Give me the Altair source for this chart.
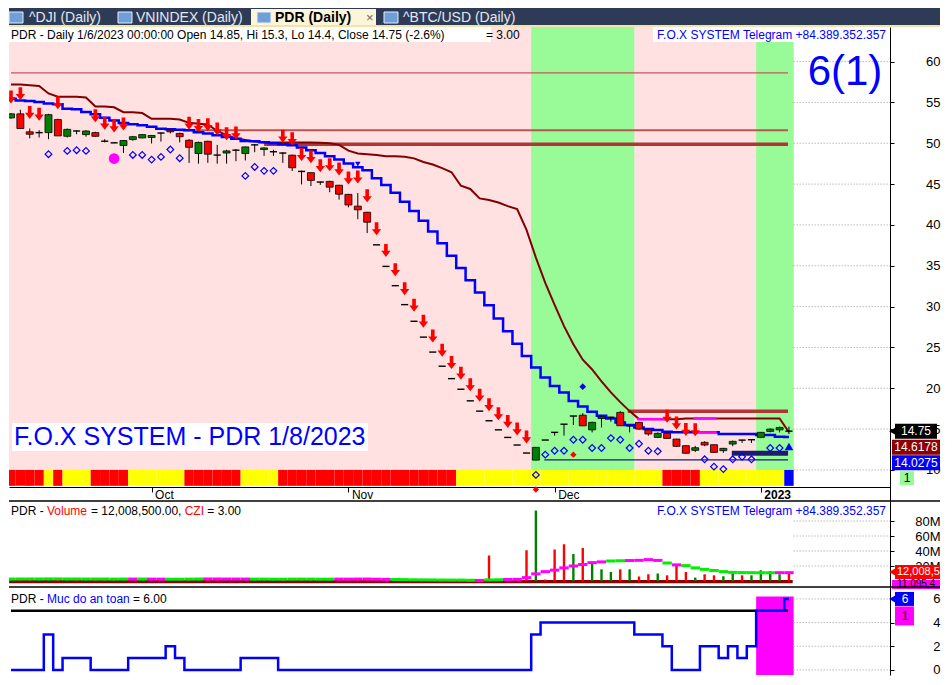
import altair as alt
import pandas as pd

# ------------------------------------------------------------------ values
tabs = ["^DJI (Daily)", "VNINDEX (Daily)", "PDR (Daily)", "^BTC/USD (Daily)"]
month_tick_idx = [15, 36, 58, 80]
month_tick_lbl = ["Oct", "Nov", "Dec", "2023"]
price_ticks = [10, 15, 20, 25, 30, 35, 40, 45, 50, 55, 60]
volume_ticks = [20, 40, 60, 80]
safety_ticks = [0, 2, 4, 6]

opens = [53.1, 53.6, 51.4, 51.25, 51.3, 52.9, 50.85, 51.5, 51.06, 51.3,
         50.3, 50.1, 49.72, 50.45, 50.65, 50.7, 51.2, 51.6, 51.2, 50.37,
         48.74, 50.24, 48.6, 48.8, 49.1, 48.74, 49.75, 49.23, 48.94, 48.85,
         48.54, 46.6, 46.4, 45.3, 45.33, 44.86, 43.74, 42.3, 41.55, 37.56,
         34.92, 32.56, 30.24, 28.2, 26.26, 24.43, 22.7, 21.18, 19.88, 18.46,
         17.2, 16.02, 14.91, 13.98, 13.05, 12.07, 11.2, 13.66, 14.55, 15.6,
         16.6, 16.7, 14.91, 16.3, 16.35, 17.04, 15.4, 15.82, 14.9, 13.98,
         14.48, 13.78, 12.97, 12.4, 13.38, 13.09, 12.36, 13.17, 13.6, 13.65,
         13.98, 14.72, 14.91, 14.85]
highs = [53.7, 54.1, 51.8, 51.6, 53.6, 53.0, 51.8, 51.6, 51.6, 51.4,
         50.5, 50.15, 50.4, 50.9, 51.1, 51.0, 51.3, 51.7, 51.3, 50.5,
         50.2, 50.3, 49.8, 49.2, 49.3, 49.6, 49.9, 49.5, 49.2, 48.9,
         48.6, 46.65, 46.4, 45.3, 45.4, 44.9, 43.8, 43.9, 41.6, 37.56,
         34.92, 32.56, 30.24, 28.2, 26.26, 24.43, 22.7, 21.18, 19.88, 18.46,
         17.2, 16.02, 14.91, 13.98, 13.05, 12.07, 12.8, 13.66, 14.6, 15.6,
         16.6, 16.95, 15.9, 16.7, 16.5, 17.2, 15.4, 15.9, 15.0, 14.6,
         14.6, 13.8, 13.0, 12.95, 13.5, 13.1, 12.7, 13.6, 13.7, 13.75,
         14.65, 15.1, 15.3, 15.3]
lows = [53.0, 51.8, 50.6, 50.7, 50.5, 50.9, 50.7, 51.1, 50.8, 50.8,
        50.1, 50.0, 48.8, 50.3, 50.6, 49.97, 50.2, 51.2, 50.1, 47.6,
        47.5, 47.6, 47.5, 47.5, 47.8, 47.9, 48.9, 48.45, 48.45, 47.6,
        46.6, 44.96, 44.76, 44.9, 44.0, 43.1, 42.16, 40.7, 39.0, 37.56,
        34.92, 32.56, 30.24, 28.2, 26.26, 24.43, 22.7, 21.18, 19.88, 18.46,
        17.2, 16.02, 14.91, 13.98, 13.05, 12.07, 11.2, 13.66, 14.2, 14.2,
        15.5, 15.4, 14.6, 15.2, 15.9, 15.4, 14.6, 14.9, 14.2, 13.9,
        13.8, 12.8, 12.0, 12.2, 12.9, 12.1, 12.1, 12.9, 13.3, 13.3,
        13.9, 14.6, 14.6, 14.4]
closes = [53.6, 51.8, 51.1, 51.3, 53.5, 50.9, 51.7, 51.5, 51.5, 50.85,
          50.25, 50.05, 50.33, 50.8, 51.06, 50.95, 51.25, 51.4, 50.8, 49.5,
          50.1, 48.66, 48.55, 49.06, 49.15, 49.55, 49.8, 49.43, 48.96, 48.8,
          47.0, 46.55, 45.45, 45.25, 44.62, 43.76, 42.44, 41.85, 40.33, 37.56,
          34.92, 32.56, 30.24, 28.2, 26.26, 24.43, 22.7, 21.18, 19.88, 18.46,
          17.2, 16.02, 14.91, 13.98, 13.05, 12.07, 12.76, 13.66, 14.6, 15.6,
          16.6, 15.4, 15.82, 16.5, 16.45, 15.41, 15.4, 15.0, 14.4, 14.48,
          13.86, 12.89, 12.04, 12.72, 13.05, 12.15, 12.64, 13.5, 13.65, 13.7,
          14.6, 15.0, 15.2, 14.75]
trail_stop = [57.2, 57.2, 57.1, 57.0, 56.1, 55.7, 55.7, 55.7, 55.6, 54.5,
              54.5, 54.4, 53.8, 53.8, 53.7, 53.0, 53.0, 53.0, 52.9, 52.5,
              52.4, 52.3, 51.5, 51.0, 50.6, 50.4, 50.2, 50.1, 50.1, 50.1,
              50.1, 50.1, 50.1, 50.05, 50.0, 49.8, 49.1, 48.75, 48.65, 48.55,
              48.4, 48.4, 48.35, 48.15, 47.7, 47.4, 46.95, 46.45, 44.8, 44.4,
              43.25, 43.05, 42.75, 42.3, 41.95, 39.4, 36.0, 32.9, 30.2, 27.6,
              25.4, 23.5, 22.3, 20.85, 19.5, 18.3, 17.2, 16.22, 16.22, 16.22,
              16.22, 16.22, 16.3, 16.3, 16.3, 16.3, 16.3, 16.3, 16.3, 16.3,
              16.3, 16.3, 16.3, 14.6178]
blue_stop = [55.45, 55.24, 55.18, 55.04, 54.88, 54.76, 54.23, 54.15, 53.82, 53.54,
             53.13, 52.8, 52.48, 52.32, 52.2, 52.01, 51.79, 51.7, 51.65, 51.59,
             51.34, 51.18, 50.98, 50.77, 50.55, 50.28, 50.24, 50.12, 50.0, 49.88,
             49.76, 49.48, 49.15, 48.82, 48.41, 48.01, 47.52, 47.07, 46.7, 45.7,
             44.88, 43.94, 42.84, 41.71, 40.52, 39.18, 37.77, 36.22, 34.72, 33.21,
             31.74, 30.16, 28.54, 26.99, 25.45, 23.96, 22.54, 21.32, 20.28, 19.48,
             18.45, 17.77, 17.11, 16.62, 16.3, 15.82, 15.49, 15.21, 15.0, 14.88,
             14.67, 14.6, 14.6, 14.6, 14.6, 14.6, 14.39, 14.39, 14.39, 14.39,
             14.27, 14.27, 14.07, 14.0275]
volume_m = [2.8, 3.5, 2.6, 2.2, 3.9, 3.1, 2.4, 1.9, 2.1, 2.6,
            2.3, 1.8, 3.2, 2.5, 2.0, 2.4, 1.7, 1.9, 2.3, 3.6,
            3.4, 3.1, 2.7, 2.2, 2.0, 2.4, 2.1, 1.8, 1.9, 2.2,
            3.0, 2.8, 2.5, 2.0, 2.3, 2.9, 3.1, 3.8, 3.3, 0.6,
            0.4, 0.5, 0.3, 0.4, 0.3, 0.5, 0.4, 0.6, 0.5, 0.7,
            0.9, 34.0, 1.2, 1.5, 3.0, 41.0, 94.0, 2.0, 42.0, 49.0,
            36.0, 44.0, 25.0, 15.6, 12.0, 15.6, 15.6, 6.0, 9.0, 10.0,
            7.6, 20.0, 12.0, 4.5, 9.0, 7.6, 6.3, 13.0, 7.6, 7.6,
            14.3, 13.3, 9.0, 12.0085]
volume_dir = list("grrggrgrgr" "rrgggggrrr" "grrggggggr" "rrrrrrrrr"
                  "rrrrrrrrrrrr"
                  "rrrrrgrrrg" "rgggrgrrgr" "rrgrrggrgg" "ggr")
volume_ma_m = [2.6, 2.7, 2.7, 2.7, 2.8, 2.8, 2.7, 2.7, 2.6, 2.6,
               2.6, 2.5, 2.6, 2.6, 2.6, 2.5, 2.5, 2.4, 2.4, 2.5,
               2.6, 2.7, 2.7, 2.6, 2.6, 2.6, 2.5, 2.5, 2.4, 2.4,
               2.5, 2.5, 2.5, 2.4, 2.4, 2.5, 2.5, 2.6, 2.6, 2.4,
               2.2, 2.0, 1.8, 1.6, 1.5, 1.4, 1.3, 1.2, 1.2, 1.0,
               0.8, 1.5, 1.6, 2.0, 2.2, 4.5, 9.5, 12.5, 14.5, 17.5,
               20.0, 22.0, 24.5, 25.5, 26.7, 27.0, 27.3, 27.6, 28.5, 27.5,
               24.0, 21.5, 20.5, 17.5, 15.5, 14.0, 12.5, 11.5, 11.2, 11.1,
               11.0, 11.0, 11.1, 11.0954]
volume_ma_col = list("ggggggggggggg" "m" "g" "mm" "gggg" "mmmmm" "ggggggggg" "mmmmmm"
                     "ggggggggg" "m" "gg" "mmmmmmmmmmm" "gg" "mmmm" "g" "m"
                     "gggggggggg" "mm")
safety = [0, 0, 0, 0, 3, 0, 1, 1, 1, 0,
          0, 0, 0, 1, 1, 1, 1, 2, 1, 0,
          0, 0, 0, 0, 0, 1, 1, 1, 1, 0,
          0, 0, 0, 0, 0, 0, 0, 0, 0, 0,
          0, 0, 0, 0, 0, 0, 0, 0, 0, 0,
          0, 0, 0, 0, 0, 0, 3, 4, 4, 4,
          4, 4, 4, 4, 4, 4, 4, 3, 3, 3,
          2, 0, 0, 0, 2, 2, 1, 2, 1, 2,
          5, 5, 5, 6]
safety_level = 5
strip_col = list("RRRRYRYYYRRRRYYYYYYRRRRRRYYYYRRRRRRRRRRRRRRRRRRRYYYYYYYYYYYYYYYYYYYYYYRRRRYYYYYYYYYB")
sell_arrow_idx = [0, 1, 2, 3, 5, 9, 10, 11, 12, 19, 20, 21, 22, 23, 24, 29, 30, 31, 32, 33,
                  34, 35, 36, 37, 38, 39, 40, 41, 42, 43, 44, 45, 46, 47, 48, 49, 50, 51, 52, 53,
                  54, 55, 70, 71, 72, 73]
hollow_idx = [4, 6, 7, 8, 13, 14, 15, 16, 17, 18, 25, 26, 27, 28, 56, 57, 58, 59, 60, 61,
              62, 63, 64, 65, 66, 67, 68, 69, 74, 75, 76, 77, 78, 79, 81, 82]
hollow_val = [48.66, 49.06, 49.15, 49.06, 48.57, 48.57, 48.0, 48.33, 49.23, 48.17,
              46.0, 47.1, 46.62, 46.62, 9.39, 11.87, 12.35, 12.35, 13.7, 13.7,
              12.68, 12.68, 13.9, 13.7, 12.68, 13.2, 12.35, 12.28, 11.3, 10.4,
              10.1, 11.3, 11.62, 11.3, 12.68, 12.68]
green_from = [55.5, 79.5]
green_to = [66.5, 83.5]
level_from = [0.0, 18.0, 27.0, 65.8, 76.9, 56.9]
level_to = [82.9, 82.9, 82.9, 82.9, 82.9, 82.9]
level_val = [58.62, 51.59, 49.88, 17.2, 12.04, 11.22]
level_kind = ["thin", "mid", "thick", "thick", "navy", "navythin"]
magenta_from = [66.8, 72.8, 72.8]
magenta_to = [69.8, 75.3, 75.3]
magenta_val = [16.22, 16.3, 14.6]

# ------------------------------------------------------------------ layout / style
FONT = "Liberation Sans"
W = 881
TH, PH, VH, IH = 19, 474, 86, 88
XD = [-0.213, 93.78]
PYD = [6.196, 64.233]
VYD = [-8.0, 106.7]
IYD = [-0.43, 7.01]
RIGHT = 931
BLUE = "#0000ff"
ARROW = "M-0.28,-1L0.28,-1L0.28,0.05L0.72,0.05L0,1L-0.72,0.05L-0.28,0.05Z"
LEVEL_STYLE = {"thin": ("#c25b5b", 1.2), "mid": ("#b85450", 2.2), "thick": ("#b03535", 3.5),
               "navy": ("#1c1c6e", 5.0), "navythin": ("#1c1c6e", 1.2)}

n = len(closes)
idx = list(range(n))
one = pd.DataFrame({"a": [0]})


def y_axis(vals, expr=None):
    kw = dict(orient="right", values=vals, grid=False, domainColor="black", domainWidth=1,
              tickColor="black", tickSize=4, labelAlign="right", labelBaseline="middle",
              labelPadding=46, labelFont=FONT, labelFontSize=13, labelColor="black",
              title=None, labelFlush=False, labelOverlap=False)
    if expr:
        kw["labelExpr"] = expr
    return alt.Axis(**kw)


lbl_expr = "".join(f"datum.value == {v} ? '{t}' : " for v, t in zip(month_tick_idx, month_tick_lbl)) + "''"
X_AXIS = alt.Axis(orient="bottom", values=month_tick_idx, labelExpr=lbl_expr, offset=-14,
                  domainColor="black", domainWidth=1, tickColor="black", tickSize=5,
                  labelAlign="left", labelBaseline="top", labelPadding=-3, labelOffset=3,
                  labelFont=FONT, labelFontSize=12, labelColor="black",
                  labelFontWeight={"condition": {"test": f"datum.value == {month_tick_idx[-1]}",
                                                 "value": "bold"}, "value": "normal"},
                  grid=False, labelFlush=False, labelOverlap=False, title=None)
PY_AXIS = y_axis(price_ticks)
VY_AXIS = y_axis(volume_ticks, "datum.value + 'M'")
IY_AXIS = y_axis(safety_ticks)


def mk_x(axis):
    def _x(f):
        return alt.X(f, type="quantitative",
                     scale=alt.Scale(domain=XD, nice=False, zero=False, padding=0), axis=axis)
    return _x


def mk_y(dom, axis):
    def _y(f):
        return alt.Y(f, type="quantitative",
                     scale=alt.Scale(domain=dom, nice=False, zero=False, padding=0), axis=axis)
    return _y


Xp = mk_x(X_AXIS)
Xn = mk_x(None)
Yp = mk_y(PYD, PY_AXIS)
Yv = mk_y(VYD, VY_AXIS)
Yi = mk_y(IYD, IY_AXIS)


def vrect(x1, x2, y1, y2, fill, **kw):
    return alt.Chart(one).mark_rect(fill=fill, **kw).encode(
        x=alt.value(x1), x2=alt.value(x2), y=alt.value(y1), y2=alt.value(y2))


def vtext(txt, x, y, color="black", size=12, align="left", weight="normal"):
    return alt.Chart(pd.DataFrame({"t": [txt]})).mark_text(
        align=align, baseline="middle", font=FONT, fontSize=size, color=color, fontWeight=weight
    ).encode(x=alt.value(x), y=alt.value(y), text="t:N")


def value_box(df, vfield, yfn, x1, x2, dy, h, fill, tfield, tx, tcolor="white", size=12, align="center"):
    r = alt.Chart(df).mark_rect(fill=fill, yOffset=dy - h / 2, y2Offset=dy + h / 2).encode(
        x=alt.value(x1), x2=alt.value(x2), y=yfn(vfield), y2=alt.Y2(vfield))
    t = alt.Chart(df).mark_text(align=align, baseline="middle", dy=dy, font=FONT, fontSize=size,
                                color=tcolor).encode(x=alt.value(tx), y=yfn(vfield), text=alt.Text(tfield + ":N"))
    return [r, t]


def right_grid(vals, xfn, yfn):
    return alt.Chart(pd.DataFrame({"v": vals, "a": 83.5, "b": XD[1]})).mark_rule(
        color="#9a9a9a", strokeDash=[1, 2], strokeWidth=1).encode(x=xfn("a"), x2="b", y=yfn("v"))


# ------------------------------------------------------------------ tab bar
tab_layers = [
    vrect(0, RIGHT, 0, TH, "#2d3b57"),
    vrect(242, 367, 1, TH, "#fdf5d9"),
    vrect(0, RIGHT, TH - 2, TH, "#f4e3a6"),
]
for xi in [0, 109, 248, 375]:
    tab_layers.append(vrect(xi, xi + 14, 4, 15, "#6f9fd8", stroke="#e8eef8", strokeWidth=1))
tab_layers += [
    vtext(tabs[0], 20, 10, "#e3e8f0", 14),
    vtext(tabs[1], 127, 10, "#e3e8f0", 14),
    vtext(tabs[2], 266, 10, "black", 14, weight="bold"),
    vtext("×", 357, 10, "#666666", 13),
    vtext(tabs[3], 394, 10, "#e3e8f0", 14),
]
tab_bar = alt.layer(*tab_layers).properties(width=W, height=TH)

# ------------------------------------------------------------------ price panel
cd = pd.DataFrame({"i": idx, "o": opens, "h": highs, "l": lows, "c": closes,
                   "trail": trail_stop, "blue": blue_stop})
diff = cd["c"] - cd["o"]
cd["fill"] = ["#008000" if d > 0 else "#ff0000" for d in diff]
cd["doji"] = diff.abs() < 0.11
cd["xl"] = cd["i"] - 0.38
cd["xr"] = cd["i"] + 0.38
cd["s0"] = cd["i"] - 0.5
cd["s1"] = cd["i"] + 0.5
cd["strip"] = [{"R": "#ff0000", "Y": "#ffff00", "B": "#0000ff"}[k] for k in strip_col]
cd["ylo"] = 8.05
cd["yhi"] = 10.0

lv = pd.DataFrame({"a": level_from, "b": level_to, "v": level_val,
                   "col": [LEVEL_STYLE[k][0] for k in level_kind],
                   "w": [LEVEL_STYLE[k][1] for k in level_kind]})
mg = pd.DataFrame({"a": magenta_from, "b": magenta_to, "v": magenta_val})
hol = pd.DataFrame({"i": hollow_idx, "v": hollow_val})
arr = cd.iloc[sell_arrow_idx]
band_top = PYD[1]

price_layers = [
    alt.Chart(pd.DataFrame({"a": [XD[0]], "b": [83.5], "y1": [10.0], "y2": [band_top]})).mark_rect(
        fill="#ffe1e1").encode(x=Xp("a"), x2="b", y=Yp("y1"), y2="y2"),
    alt.Chart(pd.DataFrame({"a": green_from, "b": green_to, "y1": 10.0, "y2": band_top})).mark_rect(
        fill="#98fb98").encode(x=Xp("a"), x2="b", y=Yp("y1"), y2="y2"),
    alt.Chart(cd).mark_rect(clip=True).encode(x=Xp("s0"), x2="s1", y=Yp("ylo"), y2="yhi",
                                              color=alt.Color("strip:N", scale=None)),
    right_grid(price_ticks, Xp, Yp),
    alt.Chart(lv).mark_rule().encode(x=Xp("a"), x2="b", y=Yp("v"), color=alt.Color("col:N", scale=None),
                                     strokeWidth=alt.StrokeWidth("w:Q", scale=None)),
    alt.Chart(cd).mark_line(color="#800000", strokeWidth=2, clip=True).encode(x=Xp("i"), y=Yp("trail")),
    alt.Chart(cd).mark_line(color=BLUE, strokeWidth=2.5, interpolate="step", clip=True).encode(
        x=Xp("i"), y=Yp("blue")),
    alt.Chart(mg).mark_rule(color="#ff00ff", strokeWidth=2.5).encode(x=Xp("a"), x2="b", y=Yp("v")),
    alt.Chart(cd).mark_rule(color="black", strokeWidth=1, clip=True).encode(
        x=Xp("i"), y=Yp("l"), y2="h"),
    alt.Chart(cd[~cd["doji"]]).mark_bar(size=7, stroke="black", strokeWidth=0.8, clip=True).encode(
        x=Xp("i"), y=Yp("o"), y2="c", color=alt.Color("fill:N", scale=None)),
    alt.Chart(cd[cd["doji"]]).mark_rule(color="black", strokeWidth=1.4, clip=True).encode(
        x=Xp("xl"), x2="xr", y=Yp("c")),
    alt.Chart(hol).mark_point(shape="diamond", filled=False, color=BLUE, size=45, strokeWidth=1.2,
                              opacity=1).encode(x=Xp("i"), y=Yp("v")),
    alt.Chart(pd.DataFrame({"i": [61], "v": [20.2]})).mark_point(
        shape="diamond", filled=True, color=BLUE, size=45, opacity=1).encode(x=Xp("i"), y=Yp("v")),
    alt.Chart(pd.DataFrame({"i": [60, 56], "v": [11.87, 7.6]})).mark_point(
        shape="diamond", filled=True, color="#ff0000", size=40, opacity=1).encode(x=Xp("i"), y=Yp("v")),
    alt.Chart(pd.DataFrame({"i": [11], "v": [48.13]})).mark_point(
        shape="circle", filled=True, color="#ff00ff", size=115, opacity=1).encode(x=Xp("i"), y=Yp("v")),
    alt.Chart(pd.DataFrame({"i": [83], "v": [12.87]})).mark_point(
        shape="triangle-up", filled=True, color=BLUE, size=75, opacity=1).encode(x=Xp("i"), y=Yp("v")),
    alt.Chart(pd.DataFrame({"i": [37], "v": [47.44]})).mark_point(
        shape="triangle-down", filled=True, color=BLUE, size=30, opacity=1).encode(x=Xp("i"), y=Yp("v")),
    alt.Chart(arr).mark_point(shape=ARROW, filled=True, color="#ff0000", size=169, strokeWidth=0,
                              opacity=1, yOffset=-16, clip=True).encode(x=Xp("i"), y=Yp("h")),
    # header boxes and texts
    vrect(0, 482, 0, 15, "white"),
    vtext("PDR - Daily 1/6/2023 00:00:00 Open 14.85, Hi 15.3, Lo 14.4, Close 14.75 (-2.6%)", 2, 7.5),
    vtext("= 3.00", 477, 7.5),
    vrect(644, 878, 0, 15, "white"),
    vtext("F.O.X SYSTEM Telegram +84.389.352.357", 877, 7.5, BLUE, 12, align="right"),
    vtext("6(1)", 836, 45, BLUE, 42, align="center"),
    vrect(3, 359, 396, 424, "white"),
    vtext("F.O.X SYSTEM - PDR 1/8/2023", 5, 410, BLUE, 25),
]
plab = pd.DataFrame({"v": [closes[-1]], "c": [f"{closes[-1]:.2f}"], "t": [f"{trail_stop[-1]:.4f}"],
                     "b": [f"{blue_stop[-1]:.4f}"], "s": ["1"]})
price_layers += value_box(plab, "v", Yp, 886, 928, 0, 15, "black", "c", 907)
price_layers.append(alt.Chart(plab).mark_point(shape="triangle-left", filled=True, color="black", size=80,
                                               opacity=1).encode(x=alt.value(884), y=Yp("v")))
price_layers += value_box(plab, "v", Yp, 883, RIGHT, 16, 15, "#8b0000", "t", 907)
price_layers += value_box(plab, "v", Yp, 883, RIGHT, 31.5, 15, BLUE, "b", 907)
price_layers += value_box(plab, "v", Yp, 891, 905, 47, 14, "#98fb98", "s", 898, tcolor="black")
price = alt.layer(*price_layers).properties(width=W, height=PH)

# ------------------------------------------------------------------ volume panel
vd = pd.DataFrame({"i": idx, "vol": volume_m, "ma": volume_ma_m, "zero": 0.0})
vd["vcol"] = [{"g": "#008000", "r": "#ff0000"}[k] for k in volume_dir]
vd["mcol"] = [{"g": "#00ee00", "m": "#ff00ff"}[k] for k in volume_ma_col]
vd["m0"] = vd["i"] - 0.5
vd["m1"] = vd["i"] + 0.5

vol_layers = [
    alt.Chart(pd.DataFrame({"a": [-0.2], "b": [83.4], "y1": [-3.0], "y2": [1.3]})).mark_rect(
        fill="#8b0000").encode(x=Xn("a"), x2="b", y=Yv("y1"), y2="y2"),
    right_grid(volume_ticks, Xn, Yv),
    alt.Chart(vd).mark_rule(strokeWidth=2.4, clip=True).encode(
        x=Xn("i"), y=Yv("zero"), y2="vol", color=alt.Color("vcol:N", scale=None)),
    alt.Chart(vd).mark_rule(strokeWidth=3, clip=True).encode(
        x=Xn("m0"), x2="m1", y=Yv("ma"), color=alt.Color("mcol:N", scale=None)),
    vtext("PDR - ", 2, 10),
    vtext("Volume", 38, 10, "#ff0000"),
    vtext("= 12,008,500.00,", 82, 10),
    vtext("CZI", 175.7, 10, "#ff0000"),
    vtext("= 3.00", 198.3, 10),
    vtext("F.O.X SYSTEM Telegram +84.389.352.357", 877, 10, BLUE, 12, align="right"),
    alt.Chart(one).mark_rule(color="black", strokeWidth=1.5).encode(
        x=alt.value(0), x2=alt.value(RIGHT), y=alt.value(0)),
]
vlab = pd.DataFrame({"v": [volume_m[-1]], "t": [f"{volume_m[-1] * 1e6:,.0f}"[:8]],
                     "m": [f"{volume_ma_m[-1] * 1e6:,.0f}"[:8]]})
vol_layers += value_box(vlab, "v", Yv, 883, RIGHT, 12.5, 9, "#ff00ff", "m", 888, tcolor="black",
                        size=10, align="left")
vol_layers += value_box(vlab, "v", Yv, 886, RIGHT, 0, 14, "#ff0000", "t", 888, size=11, align="left")
vol_layers.append(alt.Chart(vlab).mark_point(shape="triangle-left", filled=True, color="#ff0000", size=80,
                                             opacity=1).encode(x=alt.value(884), y=Yv("v")))
volume = alt.layer(*vol_layers).properties(width=W, height=VH)

# ------------------------------------------------------------------ safety panel
sd = pd.DataFrame({"i": idx, "s": safety})
ind_layers = [
    alt.Chart(pd.DataFrame({"a": [green_from[-1]], "b": [green_to[-1]], "y1": [6.2], "y2": [IYD[0]]})).mark_rect(
        fill="#ff00ff").encode(x=Xn("a"), x2="b", y=Yi("y1"), y2="y2"),
    right_grid(safety_ticks, Xn, Yi),
    alt.Chart(pd.DataFrame({"a": [0.0], "b": [82.9], "v": [safety_level]})).mark_rule(
        color="black", strokeWidth=2.5).encode(x=Xn("a"), x2="b", y=Yi("v")),
    alt.Chart(sd).mark_line(color=BLUE, strokeWidth=2.5, interpolate="step", clip=True).encode(
        x=Xn("i"), y=Yi("s")),
    vtext("PDR - ", 2, 12),
    vtext("Muc do an toan", 38, 12, BLUE),
    vtext("= 6.00", 124, 12),
    alt.Chart(one).mark_rule(color="black", strokeWidth=1.5).encode(
        x=alt.value(0), x2=alt.value(RIGHT), y=alt.value(0)),
]
ilab = pd.DataFrame({"v": [safety[-1]], "t": [str(safety[-1])], "s": ["1"]})
ind_layers += value_box(ilab, "v", Yi, 886, 905, 0, 14, BLUE, "t", 896)
ind_layers.append(alt.Chart(ilab).mark_point(shape="triangle-left", filled=True, color=BLUE, size=80,
                                             opacity=1).encode(x=alt.value(884), y=Yi("v")))
ind_layers += value_box(ilab, "v", Yi, 886, 905, 17, 19, "#ff00ff", "s", 896, tcolor="black")
indicator = alt.layer(*ind_layers).properties(width=W, height=IH)

chart = alt.vconcat(tab_bar, price, volume, indicator, spacing=0, bounds="flush").properties(
    padding=0).configure_view(stroke=None)

chart.save("out.html", embed_options={"renderer": "svg", "actions": False})
